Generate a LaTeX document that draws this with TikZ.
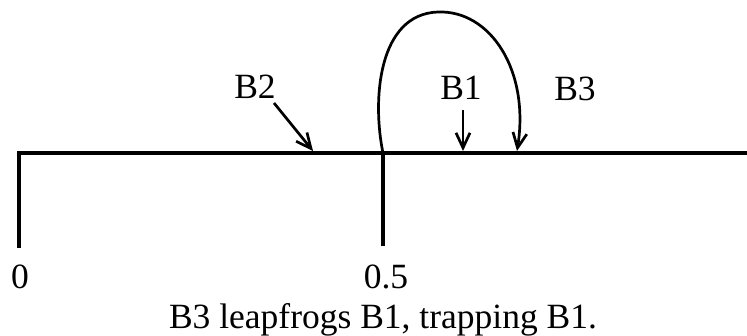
\documentclass[tikz,border=0pt]{standalone}
\usepackage{fontspec}
\setmainfont{Liberation Serif}
\usetikzlibrary{arrows.meta}
\begin{document}
\begin{tikzpicture}[x=1pt,y=-1pt,
  axis/.style={line width=3.2pt, line cap=rect},
  lbl/.style={inner sep=0pt, anchor=base, font=\fontsize{35.5}{42}\selectfont},
  arr/.style={line width=2.7pt, -{Straight Barb[length=15pt,width=14pt,line width=2.7pt]}}]
\useasboundingbox (0,0) rectangle (747,335);
% axis coordinates
\coordinate (L) at (19,153);
\coordinate (R) at (760,153);
\coordinate (Lb) at (19,246);
\coordinate (M) at (383,153);
\coordinate (Mb) at (383,246);
\coordinate (Rt) at (748.2,192);
\coordinate (Rb) at (748.2,247);
\draw[axis] (Lb) -- (L) -- (R);
\draw[axis, line cap=butt] (M) -- (Mb);
\draw[line width=2.4pt, gray] (Rt) -- (Rb);
% tick labels
\node[lbl] (zero) at (20,288) {0};
\node[lbl] (half) at (386,288) {0.5};
\node[lbl, anchor=base west] (one) at (744,288) {1};
% labels
\node[lbl] (b2) at (255,98) {B2};
\node[lbl] (b1) at (461,99) {B1};
\node[lbl] (b3) at (575,100) {B3};
\node[lbl] (cap) at (383,328) {B3 leapfrogs B1, trapping B1.};
% arrows
\coordinate (b2s) at (274,103);
\coordinate (b2t) at (313,151);
\coordinate (b1s) at (463,110);
\coordinate (b1t) at (463,151);
\coordinate (b3t) at (517,151);
\coordinate (top) at (438,12);
\draw[arr] (b2s) -- (b2t);
\draw[arr] (b1s) -- (b1t);
\draw[arr] (M) .. controls (372,100) and (378,14) .. (top)
  .. controls (490,10) and (530,70) .. (b3t);
\end{tikzpicture}
\end{document}
